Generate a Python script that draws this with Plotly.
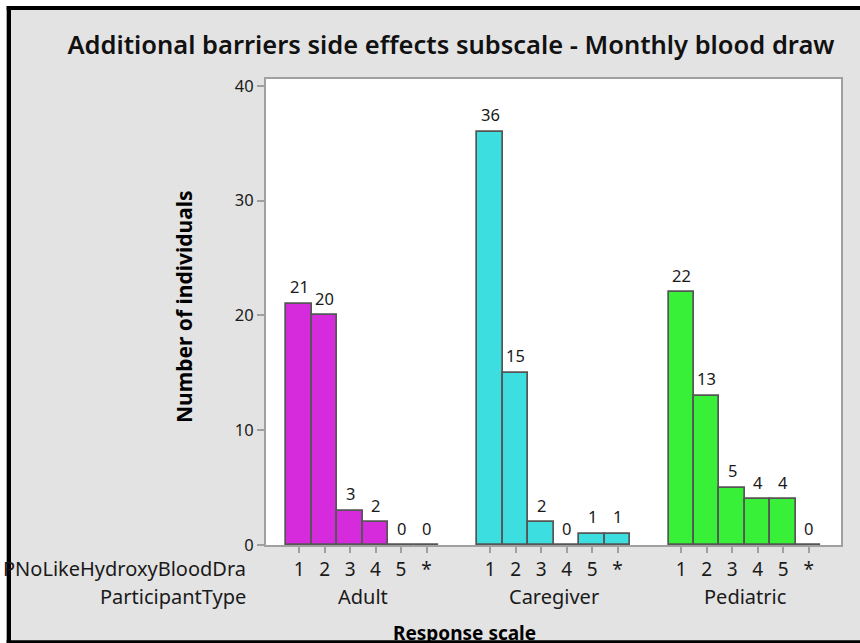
import plotly.graph_objects as go

# Counts of responses per participant group
groups = ["Adult", "Caregiver", "Pediatric"]
responses = ["1", "2", "3", "4", "5", "*"]
adult = [21, 20, 3, 2, 0, 0]
caregiver = [36, 15, 2, 0, 1, 1]
pediatric = [22, 13, 5, 4, 4, 0]
bar_colors = ["#D62BDC", "#3DDEE0", "#38F038"]

title_text = "Additional barriers side effects subscale - Monthly blood draw"
y_title = "Number of individuals"
x_title = "Response scale"
row_label_response = "PNoLikeHydroxyBloodDra"
row_label_group = "ParticipantType"

# Figure geometry (pixels)
W, H = 860, 643
L, R, T, B = 266, 19, 79, 98
PW, PH = W - L - R, H - T - B
GAP = 1.5  # empty slots between neighbouring groups

FONT = "Noto Sans"
TEXT = "#1a1a1a"
FRAME = "#A0A0A0"


def px_x(px):
    return (px - L) / PW


def px_y(py):
    return (H - B - py) / PH


series = [adult, caregiver, pediatric]
step = len(responses) + GAP

fig = go.Figure()
tickvals, ticktext = [], []
annotations = []
for g, (name, vals, col) in enumerate(zip(groups, series, bar_colors)):
    xs = [g * step + i for i in range(len(responses))]
    tickvals += xs
    ticktext += responses
    fig.add_trace(go.Bar(
        x=xs, y=vals, width=1.0, name=name,
        marker=dict(color=col, line=dict(color="#555555", width=1.7)),
        showlegend=False,
    ))
    for x, v in zip(xs, vals):
        annotations.append(dict(
            x=x, y=v, xref="x", yref="y", text=str(v), showarrow=False,
            yanchor="middle", yshift=17,
            font=dict(family=FONT, size=16.5, color=TEXT),
        ))
    # group name under the tick labels
    annotations.append(dict(
        x=(xs[0] + xs[-1]) / 2, y=0, xref="x", yref="paper", text=name,
        showarrow=False, yanchor="middle", yshift=-51,
        font=dict(family=FONT, size=20, color=TEXT),
    ))

# row labels for the two x-axis levels
annotations.append(dict(
    x=px_x(248), y=0, xref="paper", yref="paper", text=row_label_response,
    showarrow=False, xanchor="right", yanchor="middle", yshift=-23,
    font=dict(family=FONT, size=20, color=TEXT),
))
annotations.append(dict(
    x=px_x(248), y=0, xref="paper", yref="paper", text=row_label_group,
    showarrow=False, xanchor="right", yanchor="middle", yshift=-51,
    font=dict(family=FONT, size=20, color=TEXT),
))
# axis titles
annotations.append(dict(
    x=px_x(464), y=0, xref="paper", yref="paper", text=x_title,
    showarrow=False, xanchor="center", yanchor="middle", yshift=-88,
    font=dict(family=FONT, size=19, color="#000", weight="bold"),
))
annotations.append(dict(
    x=px_x(184), y=px_y(307), xref="paper", yref="paper", text=y_title,
    showarrow=False, xanchor="center", yanchor="middle", textangle=-90,
    font=dict(family=FONT, size=21, color="#000", weight="bold"),
))

# outer frame: white page margin, black border on left, top and bottom
shapes = [
    dict(type="rect", xref="paper", yref="paper", layer="above",
         x0=px_x(-2), x1=px_x(6.7), y0=px_y(-2), y1=px_y(H + 2),
         fillcolor="white", line=dict(width=0)),
    dict(type="rect", xref="paper", yref="paper", layer="above",
         x0=px_x(-2), x1=px_x(W + 2), y0=px_y(-2), y1=px_y(6),
         fillcolor="white", line=dict(width=0)),
    dict(type="rect", xref="paper", yref="paper", layer="above",
         x0=px_x(6.7), x1=px_x(11), y0=px_y(6), y1=px_y(H + 2),
         fillcolor="black", line=dict(width=0)),
    dict(type="rect", xref="paper", yref="paper", layer="above",
         x0=px_x(6.7), x1=px_x(W + 2), y0=px_y(6), y1=px_y(10),
         fillcolor="black", line=dict(width=0)),
    dict(type="rect", xref="paper", yref="paper", layer="above",
         x0=px_x(6.7), x1=px_x(W + 2), y0=px_y(640.3), y1=px_y(H + 2),
         fillcolor="black", line=dict(width=0)),
]

fig.update_layout(
    width=W, height=H, autosize=False,
    margin=dict(l=L, r=R, t=T, b=B, pad=0),
    paper_bgcolor="#E3E3E3", plot_bgcolor="white",
    bargap=0, barmode="overlay",
    font=dict(family=FONT, color=TEXT),
    title=dict(
        text=title_text, x=451 / W, y=1 - 45 / H, xanchor="center",
        yanchor="middle", xref="container", yref="container",
        font=dict(family=FONT, size=25.5, color="#111", weight=600),
    ),
    xaxis=dict(
        range=[-1.3, 21.27], tickvals=tickvals, ticktext=ticktext,
        ticks="outside", ticklen=6, tickcolor=FRAME, tickwidth=1.5,
        showline=True, linecolor=FRAME, linewidth=2, mirror=True,
        showgrid=False, zeroline=False,
        tickfont=dict(family=FONT, size=19, color=TEXT),
    ),
    yaxis=dict(
        range=[0, 40.6], tickvals=[0, 10, 20, 30, 40],
        ticks="outside", ticklen=7, tickcolor=FRAME, tickwidth=1.5,
        showline=True, linecolor=FRAME, linewidth=2, mirror=True,
        showgrid=False, zeroline=False,
        tickfont=dict(family=FONT, size=16.5, color=TEXT),
    ),
    annotations=annotations,
    shapes=shapes,
)

fig.write_html("out.html")
